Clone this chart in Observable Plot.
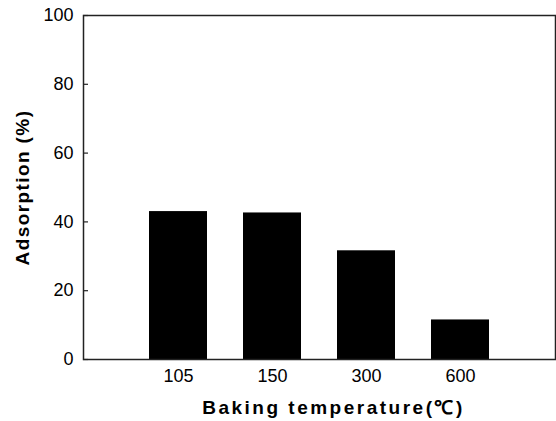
<!DOCTYPE html>
<html>
<head>
<meta charset="utf-8">
<script src="https://cdn.jsdelivr.net/npm/d3@7"></script>
<script src="https://cdn.jsdelivr.net/npm/@observablehq/plot@0.6"></script>
<style>
  html, body { margin: 0; padding: 0; background: #fff; }
  #chart svg { display: block; }
</style>
</head>
<body>
<div id="chart"></div>
<script>
// Baking temperature (°C) categories and adsorption (%) per category
const temperatures = ["105", "150", "300", "600"];
const adsorption = [43.0, 42.6, 31.6, 11.5];
const yTicks = [0, 20, 40, 60, 80, 100];
const xTitle = "Baking temperature(℃)";
const yTitle = "Adsorption (%)";

const data = temperatures.map((t, i) => ({temperature: t, adsorption: adsorption[i]}));

const font = "'Liberation Sans', Arial, Helvetica, sans-serif";

const chart = Plot.plot({
  width: 556,
  height: 421,
  marginLeft: 83,
  marginRight: 1,
  marginTop: 15,
  marginBottom: 62,
  style: {fontFamily: font, fontSize: "18px", color: "#000", background: "#fff"},
  x: {domain: temperatures, paddingInner: 0.386, paddingOuter: 0.693},
  y: {domain: [0, 100]},
  marks: [
    Plot.barY(data, {x: "temperature", y: "adsorption", fill: "#000"}),
    Plot.frame({stroke: "#222", strokeWidth: 1.5}),
    // tick labels, left of the axis
    Plot.axisY({ticks: yTicks, tickSize: 0, tickPadding: 10, label: null, fontSize: 18}),
    // short tick marks pointing into the plot
    Plot.axisY({ticks: yTicks, tickSize: 5, dx: 5, fill: "none", stroke: "#222", strokeWidth: 1.2, label: null}),
    Plot.axisX({tickSize: 0, tickPadding: 10, label: null, fontSize: 18}),
    Plot.text([xTitle], {
      frameAnchor: "bottom", lineAnchor: "middle", textAnchor: "middle",
      dx: 14, dy: 48,
      fontWeight: "bold", fontSize: 19, fill: "#000"
    }),
    Plot.text([yTitle], {
      frameAnchor: "left", textAnchor: "middle", lineAnchor: "middle",
      dx: -61, rotate: -90,
      fontWeight: "bold", fontSize: 19, fill: "#000"
    })
  ]
});

// widen the spacing of the two axis titles
d3.select(chart).selectAll("text")
  .filter(function() { return this.textContent === xTitle; })
  .style("letter-spacing", "2.5px");
d3.select(chart).selectAll("text")
  .filter(function() { return this.textContent === yTitle; })
  .style("letter-spacing", "1.4px");

document.getElementById("chart").appendChild(chart);
</script>
</body>
</html>
